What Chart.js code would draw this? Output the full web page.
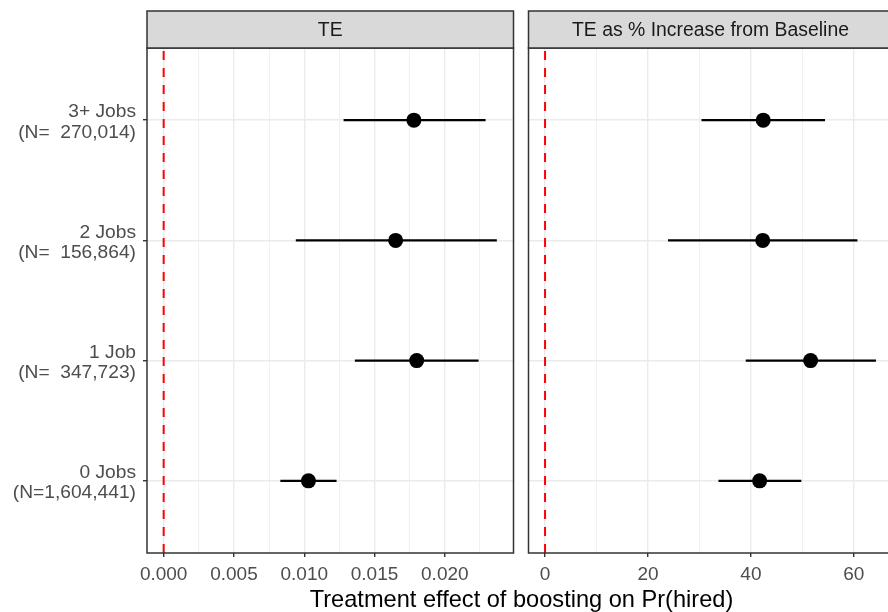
<!DOCTYPE html>
<html><head><meta charset="utf-8">
<script src="https://cdn.jsdelivr.net/npm/chart.js@4.4.0/dist/chart.umd.min.js"></script>
<style>
html,body{margin:0;padding:0;background:#fff;overflow:hidden;width:888px;height:612px;}
#c1{position:absolute;left:0;top:0;}
#c2{position:absolute;left:521px;top:0;}
#xtitle{position:absolute;left:0;width:1043px;top:588px;text-align:center;font-family:'Liberation Sans',Arial,Helvetica,sans-serif;font-size:23.6px;line-height:23.6px;color:#000;white-space:nowrap;}
</style></head><body>
<canvas id="c1" width="521" height="612"></canvas>
<canvas id="c2" width="379" height="612"></canvas>
<div id="xtitle">Treatment effect of boosting on Pr(hired)</div>
<script>
// ---- data (bottom to top) ----
const categories = ['0 Jobs', '1 Job', '2 Jobs', '3+ Jobs'];
const nLabels = ['(N=1,604,441)', '(N=  347,723)', '(N=  156,864)', '(N=  270,014)'];
const panelTitles = ['TE', 'TE as % Increase from Baseline'];

const teEst = [0.0103, 0.0180, 0.0165, 0.0178];
const teLo  = [0.0083, 0.0136, 0.0094, 0.0128];
const teHi  = [0.0123, 0.0224, 0.0237, 0.0229];

const pctEst = [41.7, 51.6, 42.3, 42.4];
const pctLo  = [33.7, 39.0, 23.9, 30.4];
const pctHi  = [49.8, 64.3, 60.7, 54.4];

const teTicks  = [0, 0.005, 0.010, 0.015, 0.020];
const pctTicks = [0, 20, 40, 60];
const refLine = 0;

// ---- styling ----
const FONT = "'Liberation Sans', Arial, Helvetica, sans-serif";
Chart.defaults.font.family = FONT;

const yMin = 1 - 0.6, yMax = categories.length + 0.6;

function range(lo, hi, est) {
  const mn = Math.min(refLine, ...lo, ...est);
  const mx = Math.max(refLine, ...hi, ...est);
  const r = mx - mn;
  return [mn - 0.05 * r, mx + 0.05 * r];
}

function allTicks(majors, min, max) {
  const step = majors[1] - majors[0];
  const out = [];
  if (majors[0] - step / 2 >= min) out.push(majors[0] - step / 2);
  majors.forEach((v, i) => {
    out.push(v);
    if (i < majors.length - 1 || v + step / 2 <= max) out.push(v + step / 2);
  });
  return out.filter(v => v >= min && v <= max);
}

const panelPlugin = {
  id: 'panel',
  afterDraw(chart, args, opts) {
    const { ctx, chartArea: a } = chart;
    ctx.save();
    ctx.strokeStyle = '#333333';
    ctx.lineWidth = 1.5;
    ctx.strokeRect(a.left, a.top, a.right - a.left, a.bottom - a.top);
    ctx.fillStyle = '#D9D9D9';
    ctx.fillRect(a.left, opts.stripTop, a.right - a.left, a.top - opts.stripTop);
    ctx.strokeRect(a.left, opts.stripTop, a.right - a.left, a.top - opts.stripTop);
    ctx.fillStyle = '#1A1A1A';
    ctx.font = '19.4px ' + FONT;
    ctx.textAlign = 'center';
    ctx.textBaseline = 'middle';
    ctx.fillText(opts.title, (a.left + a.right) / 2, (opts.stripTop + a.top) / 2 + 1);
    ctx.restore();
  }
};

function makeChart(canvasId, est, lo, hi, majors, fmt, title, padding, showY) {
  const [xmin, xmax] = range(lo, hi, est);
  const tickVals = allTicks(majors, xmin, xmax);
  const isMajor = v => majors.some(m => Math.abs(m - v) < 1e-9 * Math.max(1, Math.abs(m)) + 1e-12);

  const datasets = [];
  datasets.push({
    label: 'points',
    data: est.map((v, i) => ({ x: v, y: i + 1 })),
    pointRadius: 7.5,
    pointBackgroundColor: '#000000',
    pointBorderWidth: 0,
    showLine: false,
    order: 0
  });
  lo.forEach((l, i) => {
    datasets.push({
      label: 'ci' + i,
      data: [{ x: l, y: i + 1 }, { x: hi[i], y: i + 1 }],
      showLine: true,
      borderColor: '#000000',
      borderWidth: 2.2,
      pointRadius: 0,
      order: 1
    });
  });
  datasets.push({
    label: 'ref',
    data: [{ x: refLine, y: yMin }, { x: refLine, y: yMax }],
    showLine: true,
    borderColor: '#FF0000',
    borderWidth: 2,
    borderDash: [9, 8],
    pointRadius: 0,
    order: 2
  });

  return new Chart(document.getElementById(canvasId), {
    type: 'scatter',
    data: { datasets },
    plugins: [panelPlugin],
    options: {
      responsive: false,
      animation: false,
      devicePixelRatio: 1,
      events: [],
      layout: { padding },
      plugins: {
        legend: { display: false },
        tooltip: { enabled: false },
        panel: { title, stripTop: 11 }
      },
      scales: {
        x: {
          type: 'linear',
          min: xmin,
          max: xmax,
          afterBuildTicks: s => { s.ticks = tickVals.map(v => ({ value: v })); },
          afterFit: s => { s.height = 59; },
          border: { display: false },
          grid: {
            color: '#EBEBEB',
            lineWidth: c => (c.tick && isMajor(c.tick.value)) ? 1.4 : 0.7,
            tickLength: 4,
            tickWidth: 1.4,
            tickColor: c => (c.tick && isMajor(c.tick.value)) ? '#333333' : 'rgba(0,0,0,0)'
          },
          ticks: {
            autoSkip: false,
            maxRotation: 0,
            color: '#4D4D4D',
            font: { size: 19 },
            padding: 6,
            callback: v => isMajor(v) ? fmt(v) : ''
          }
        },
        y: {
          type: 'linear',
          min: yMin,
          max: yMax,
          afterBuildTicks: s => { s.ticks = categories.map((c, i) => ({ value: i + 1 })); },
          afterFit: s => { s.width = showY ? 147 : 0; },
          border: { display: false },
          grid: {
            color: '#EBEBEB',
            lineWidth: 1.4,
            drawTicks: showY,
            tickLength: 4,
            tickWidth: 1.4,
            tickColor: '#333333'
          },
          ticks: {
            display: showY,
            color: '#4D4D4D',
            font: { size: 19.2, lineHeight: 1.05 },
            padding: 7,
            labelOffset: 2,
            callback: v => [categories[Math.round(v) - 1], nLabels[Math.round(v) - 1]]
          }
        }
      }
    }
  });
}

makeChart('c1', teEst, teLo, teHi, teTicks, v => v.toFixed(3), panelTitles[0],
  { top: 48, right: 6, bottom: 0, left: 0 }, true);
makeChart('c2', pctEst, pctLo, pctHi, pctTicks, v => v.toFixed(0), panelTitles[1],
  { top: 48, right: 4, bottom: 0, left: 6.5 }, false);
</script>
</body></html>
